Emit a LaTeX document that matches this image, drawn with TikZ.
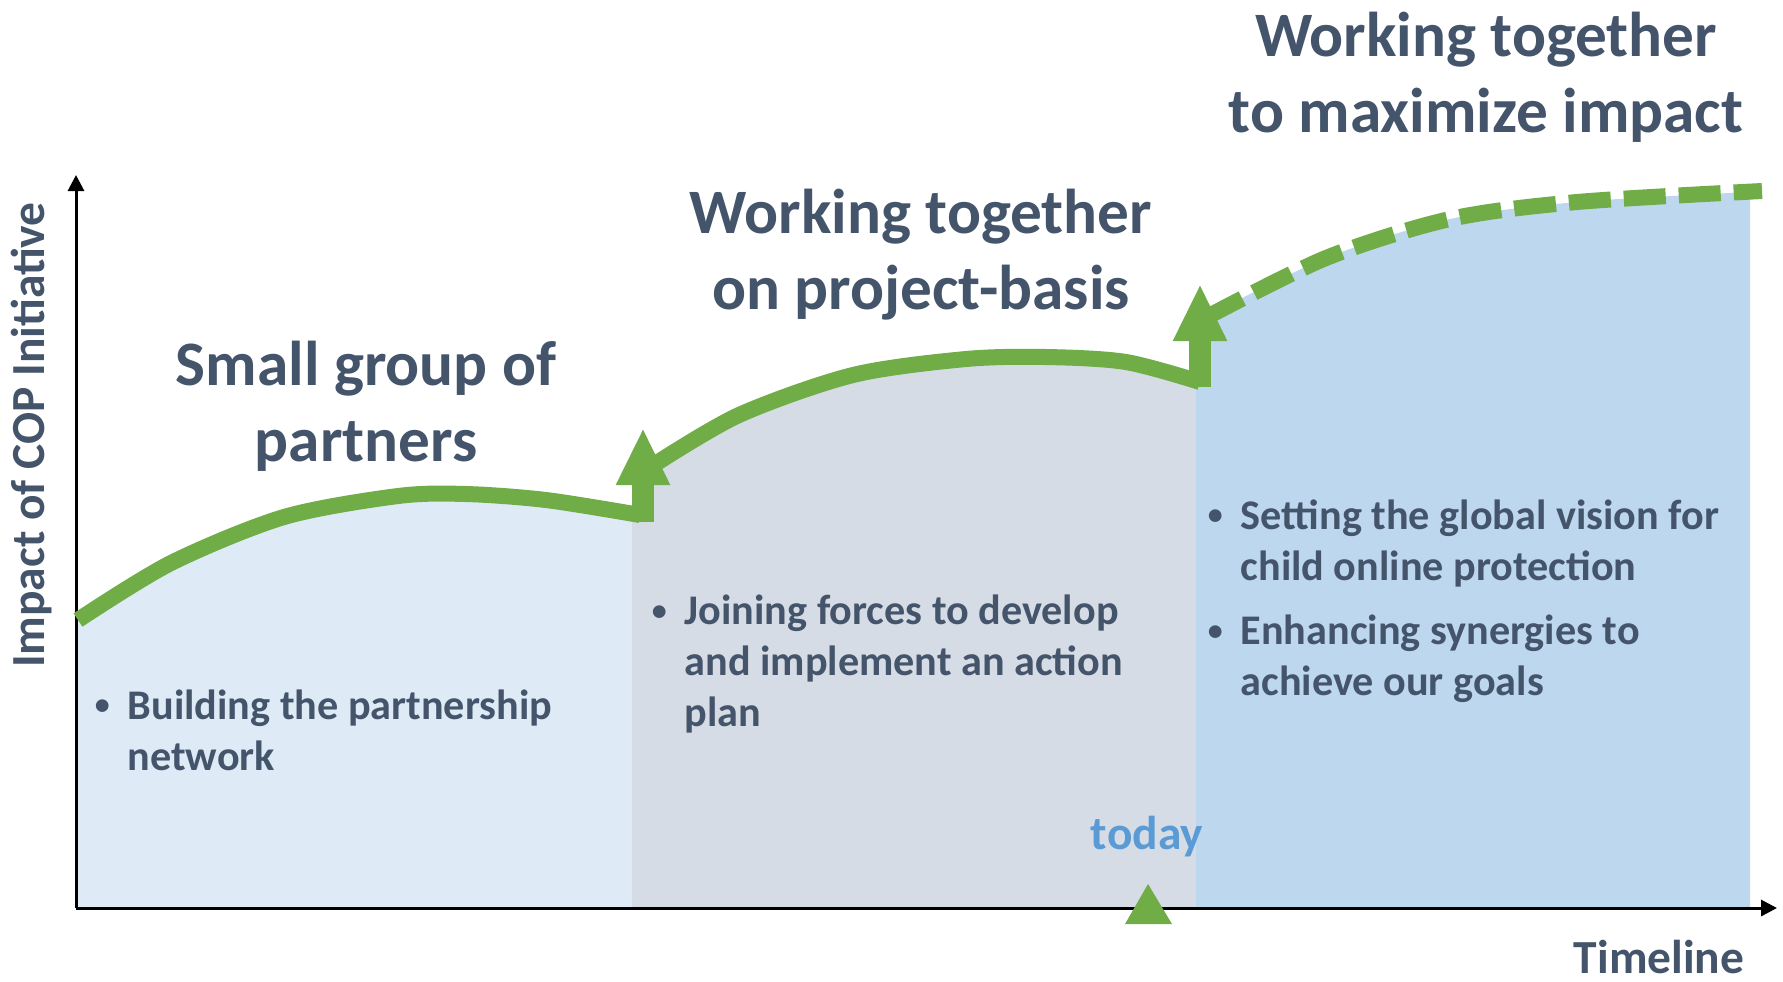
\documentclass[tikz,border=0pt]{standalone}
\usepackage{fontspec}
\setmainfont{Carlito}
\usetikzlibrary{arrows.meta}

\definecolor{leafgreen}{HTML}{70AD47}
\definecolor{slate}{HTML}{44546A}
\definecolor{todayblue}{HTML}{5B9BD5}
\definecolor{phaseone}{HTML}{DEEAF6}
\definecolor{phasetwo}{HTML}{D6DCE5}
\definecolor{phasethree}{HTML}{BDD7EE}

\newcommand{\notebullet}{\llap{\raisebox{0.1em}{\fontsize{8.5}{8.5}\selectfont\textbullet}\hspace{1.8mm}}}

\begin{document}
\begin{tikzpicture}[x = 0.01cm, y = -0.01cm,
	phasetitle/.style = {font=\fontsize{18}{21.6}\selectfont\bfseries, text=slate, align=center, inner sep=0pt},
	phasenote/.style = {font=\fontsize{12}{14.5}\selectfont\bfseries, text=slate, align=left, anchor=west, inner sep=0pt},
	axislabel/.style = {font=\fontsize{13.5}{16}\selectfont\bfseries, text=slate, inner sep=0pt},
	growth/.style = {leafgreen, line width=0.16cm, line join=round},
	stepup/.style = {leafgreen, line width=0.22cm, -{Triangle[width=0.5cm, length=0.57cm]}},
	axisline/.style = {line width=0.03cm, -{Triangle[width=0.16cm, length=0.16cm]}}]
	\useasboundingbox (0, 0) rectangle (1783, 981);

	% phase areas
	\fill[phaseone] (76, 907) -- (76, 622) -- plot[smooth] coordinates {(82, 618) (171, 563) (284, 517) (398, 496) (466, 494) (546, 500) (632, 514)} -- (632, 907) -- cycle;
	\fill[phasetwo] (632, 907) -- (632, 480) -- plot[smooth] coordinates {(650, 468) (739, 415) (853, 375) (966, 359) (1046, 357) (1126, 362) (1196, 381)} -- (1196, 907) -- cycle;
	\fill[phasethree] (1196, 907) -- (1196, 322) -- plot[smooth] coordinates {(1203, 318) (1326, 258) (1450, 219) (1577, 202) (1750, 192)} -- (1750, 907) -- cycle;

	% axes
	\coordinate (origin) at (76, 908);
	\coordinate (ytop) at (76, 175);
	\coordinate (xend) at (1777, 908);
	\draw[axisline] (origin) -- (ytop);
	\draw[axisline] (origin) -- (xend);

	% impact curves
	\draw[growth] plot[smooth] coordinates {(78, 620) (171, 563) (284, 517) (398, 496) (466, 494) (546, 500) (640, 515)};
	\draw[growth] plot[smooth] coordinates {(652, 466) (739, 415) (853, 375) (966, 359) (1046, 357) (1126, 362) (1200, 382)};
	\draw[growth, dash pattern=on 0.42cm off 0.13cm] plot[smooth] coordinates {(1205, 318) (1326, 258) (1450, 219) (1577, 202) (1762, 191)};

	% steps up
	\coordinate (rise1 foot) at (643, 522);
	\coordinate (rise1 tip) at (643, 428);
	\coordinate (rise2 foot) at (1200, 387);
	\coordinate (rise2 tip) at (1200, 284);
	\draw[stepup] (rise1 foot) -- (rise1 tip);
	\draw[stepup] (rise2 foot) -- (rise2 tip);

	% today marker
	\fill[leafgreen] (1125, 924) -- (1172, 924) -- (1148, 884) -- cycle;
	\node[axislabel, text=todayblue] (today) at (1147, 837) {today};

	% phase titles
	\node[phasetitle] (title1) at (366, 406) {Small group of\\partners};
	\node[phasetitle] (title2) at (921, 255) {Working together\\on project-basis};
	\node[phasetitle] (title3) at (1486, 77) {Working together\\to maximize impact};

	% phase notes
	\node[phasenote] (note1) at (127, 730) {\notebullet Building the partnership\\network};
	\node[phasenote] (note2) at (684, 664) {\notebullet Joining forces to develop\\and implement an action\\plan};
	\node[phasenote] (note3) at (1240, 543) {\notebullet Setting the global vision for\\child online protection};
	\node[phasenote] (note4) at (1240, 659) {\notebullet Enhancing synergies to\\achieve our goals};

	% axis labels
	\node[axislabel, rotate=90] (impact) at (32, 435) {Impact of COP Initiative};
	\node[axislabel, anchor=east] (timeline) at (1745, 957) {Timeline};
\end{tikzpicture}
\end{document}
